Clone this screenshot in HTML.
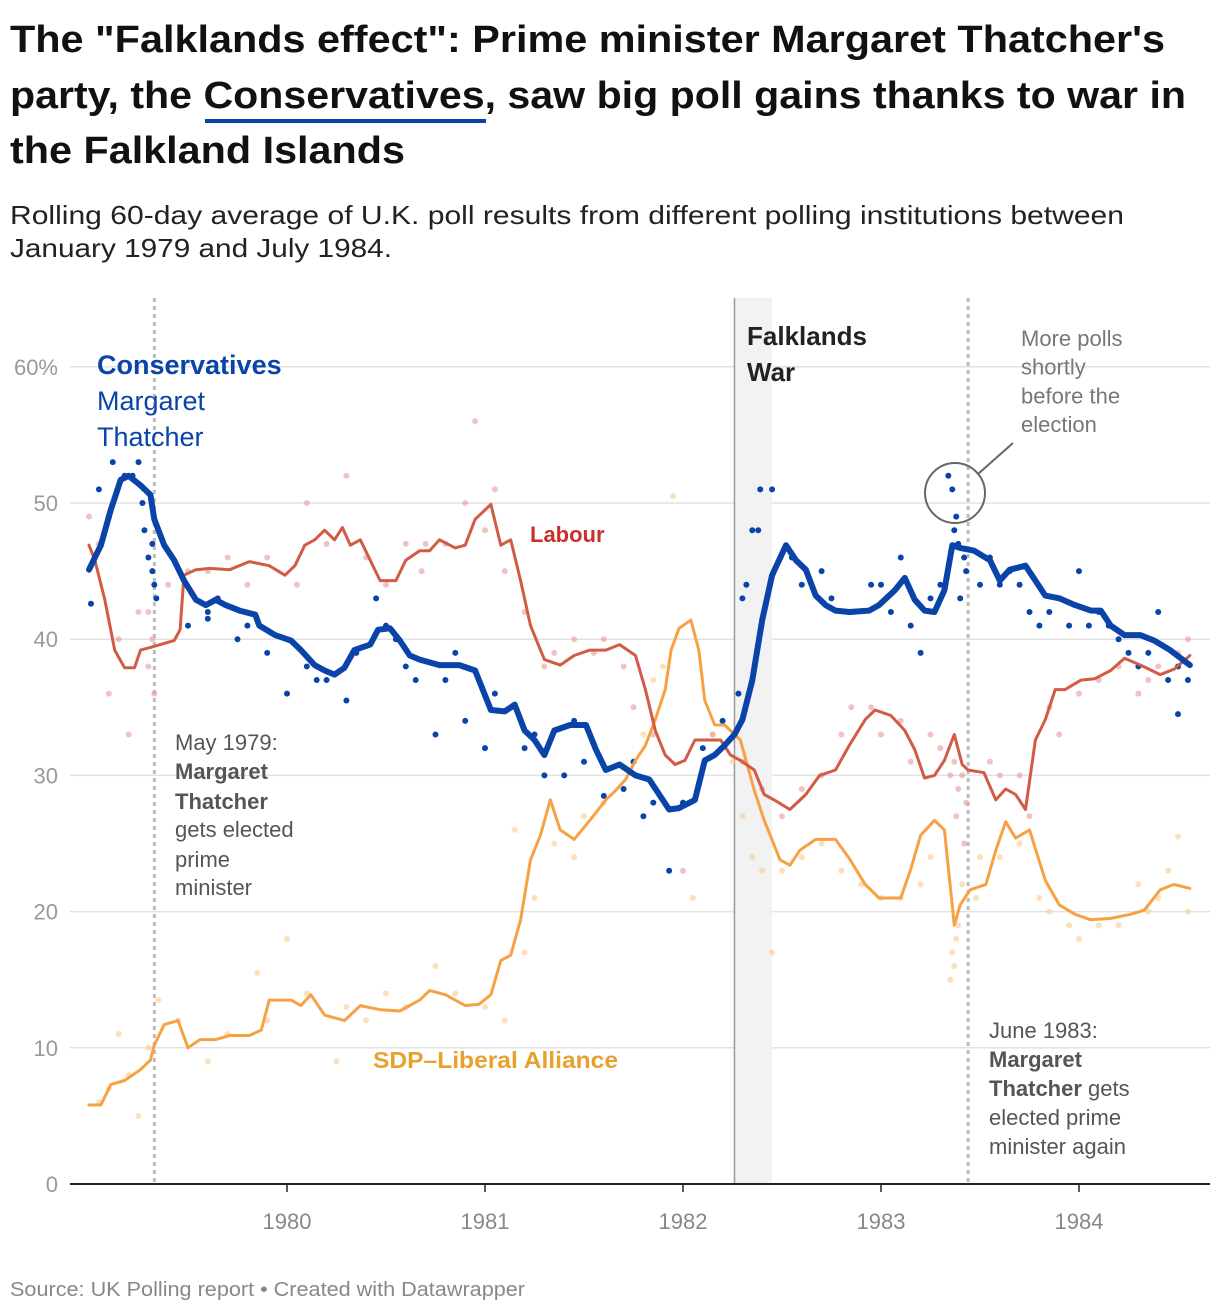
<!DOCTYPE html>
<html><head><meta charset="utf-8">
<style>
html,body{margin:0;padding:0;background:#fff;}
svg{display:block;font-family:"Liberation Sans",sans-serif;}
</style></head>
<body>
<svg id="chart" width="1220" height="1312" viewBox="0 0 1220 1312">
<g font-weight="bold" font-size="38" fill="#111">
<text x="10" y="52" textLength="1155" lengthAdjust="spacingAndGlyphs">The "Falklands effect": Prime minister Margaret Thatcher's</text>
<text x="10" y="108" textLength="1176" lengthAdjust="spacingAndGlyphs">party, the Conservatives, saw big poll gains thanks to war in</text>
<text x="10" y="163" textLength="395" lengthAdjust="spacingAndGlyphs">the Falkland Islands</text>
</g>
<rect x="205" y="119" width="281" height="4" fill="#0a44a8"/>
<g font-size="26" fill="#222">
<text x="10" y="224" textLength="1114" lengthAdjust="spacingAndGlyphs">Rolling 60-day average of U.K. poll results from different polling institutions between</text>
<text x="10" y="257" textLength="382" lengthAdjust="spacingAndGlyphs">January 1979 and July 1984.</text>
</g>
<g id="plot"></g>
<text x="10" y="1296" font-size="20" fill="#888" textLength="515" lengthAdjust="spacingAndGlyphs">Source: UK Polling report • Created with Datawrapper</text>
</svg>
<script>
const yTicks=[0,10,20,30,40,50,60];
const yTickLabels=["0","10","20","30","40","50","60%"];
const xTicks=[1980,1981,1982,1983,1984];
const consYears=[1979.00,1979.06,1979.11,1979.16,1979.20,1979.26,1979.31,1979.33,1979.38,1979.43,1979.48,1979.54,1979.59,1979.64,1979.69,1979.76,1979.84,1979.86,1979.94,1980.02,1980.07,1980.14,1980.19,1980.24,1980.29,1980.34,1980.42,1980.46,1980.52,1980.57,1980.62,1980.67,1980.77,1980.82,1980.87,1980.95,1981.03,1981.10,1981.15,1981.20,1981.25,1981.30,1981.35,1981.43,1981.51,1981.56,1981.61,1981.68,1981.76,1981.83,1981.88,1981.93,1981.98,1982.06,1982.11,1982.16,1982.21,1982.26,1982.30,1982.35,1982.40,1982.45,1982.52,1982.57,1982.62,1982.67,1982.72,1982.77,1982.84,1982.94,1982.99,1983.07,1983.12,1983.17,1983.22,1983.27,1983.32,1983.36,1983.40,1983.47,1983.55,1983.60,1983.65,1983.73,1983.78,1983.83,1983.90,1983.98,1984.06,1984.11,1984.16,1984.23,1984.31,1984.38,1984.46,1984.56];
const consVals=[45.1,46.9,49.5,51.7,52.0,51.3,50.6,48.8,46.9,45.8,44.3,42.9,42.5,42.9,42.5,42.1,41.8,41.0,40.3,39.9,39.2,38.1,37.7,37.4,37.9,39.2,39.6,40.7,40.8,39.9,38.8,38.5,38.1,38.1,38.1,37.7,34.8,34.7,35.2,33.3,32.6,31.5,33.3,33.7,33.7,31.9,30.4,30.8,30.0,29.7,28.6,27.5,27.6,28.2,31.1,31.5,32.2,33.0,34.1,37.0,41.4,44.7,46.9,45.8,45.1,43.2,42.5,42.1,42.0,42.1,42.5,43.6,44.5,42.9,42.1,42.0,43.6,46.9,46.7,46.5,45.8,44.3,45.1,45.4,44.3,43.2,43.0,42.5,42.1,42.1,41.0,40.3,40.3,39.9,39.2,38.1];
const labYears=[1979.00,1979.03,1979.08,1979.13,1979.18,1979.23,1979.26,1979.31,1979.36,1979.43,1979.46,1979.48,1979.54,1979.61,1979.71,1979.81,1979.91,1979.99,1980.04,1980.09,1980.14,1980.19,1980.24,1980.28,1980.32,1980.37,1980.42,1980.47,1980.55,1980.60,1980.67,1980.72,1980.77,1980.85,1980.90,1980.95,1981.03,1981.08,1981.13,1981.18,1981.23,1981.30,1981.38,1981.45,1981.53,1981.61,1981.68,1981.76,1981.81,1981.86,1981.91,1981.96,1982.01,1982.06,1982.11,1982.19,1982.24,1982.29,1982.36,1982.41,1982.46,1982.54,1982.62,1982.69,1982.77,1982.84,1982.92,1982.97,1983.05,1983.12,1983.17,1983.22,1983.27,1983.32,1983.37,1983.41,1983.44,1983.52,1983.58,1983.63,1983.68,1983.73,1983.78,1983.83,1983.88,1983.93,1984.01,1984.08,1984.16,1984.23,1984.31,1984.41,1984.48,1984.56];
const labVals=[46.9,45.8,42.9,39.2,37.9,37.9,39.2,39.4,39.6,39.9,40.7,44.7,45.1,45.2,45.1,45.7,45.4,44.7,45.4,46.9,47.3,48.0,47.3,48.2,46.9,47.3,45.8,44.3,44.3,45.8,46.5,46.5,47.3,46.7,46.9,48.8,49.9,46.9,47.3,44.3,41.0,38.5,38.1,38.8,39.2,39.2,39.6,38.8,36.3,33.3,31.5,30.8,31.1,32.6,32.6,32.6,31.5,31.1,30.4,28.6,28.2,27.5,28.6,30.0,30.4,32.2,34.1,34.8,34.4,33.3,31.9,29.8,30.0,31.1,33.0,30.8,30.4,30.2,28.2,29.0,28.6,27.5,32.6,34.1,36.3,36.3,37.0,37.1,37.7,38.6,38.1,37.4,37.8,38.8];
const allYears=[1979.00,1979.06,1979.11,1979.18,1979.26,1979.31,1979.33,1979.38,1979.45,1979.50,1979.56,1979.64,1979.71,1979.81,1979.87,1979.91,1980.02,1980.07,1980.12,1980.19,1980.29,1980.37,1980.47,1980.57,1980.67,1980.72,1980.80,1980.90,1980.97,1981.03,1981.08,1981.13,1981.18,1981.23,1981.28,1981.33,1981.38,1981.45,1981.53,1981.61,1981.66,1981.71,1981.76,1981.81,1981.86,1981.91,1981.94,1981.98,1982.04,1982.08,1982.11,1982.16,1982.21,1982.29,1982.36,1982.41,1982.49,1982.54,1982.59,1982.67,1982.77,1982.84,1982.92,1982.99,1983.10,1983.15,1983.20,1983.27,1983.32,1983.37,1983.40,1983.45,1983.53,1983.58,1983.63,1983.68,1983.75,1983.83,1983.90,1983.98,1984.06,1984.16,1984.26,1984.33,1984.41,1984.48,1984.56];
const allVals=[5.8,5.8,7.3,7.6,8.4,9.1,10.2,11.7,12.0,10.0,10.6,10.6,10.9,10.9,11.3,13.5,13.5,13.1,13.9,12.4,12.0,13.1,12.8,12.7,13.5,14.2,13.9,13.1,13.2,13.9,16.4,16.8,19.4,23.8,25.6,28.2,26.0,25.3,26.7,28.2,28.9,29.7,31.1,32.2,34.1,36.3,39.2,40.8,41.4,39.2,35.5,33.7,33.7,32.6,28.9,26.7,23.8,23.4,24.5,25.3,25.3,23.9,22.0,21.0,21.0,23.1,25.6,26.7,26.0,19.0,20.5,21.6,22.0,24.5,26.6,25.4,26.0,22.3,20.5,19.8,19.4,19.5,19.8,20.1,21.6,22.0,21.7];
const consDotYears=[1979.01,1979.05,1979.12,1979.18,1979.25,1979.28,1979.32,1979.33,1979.34,1979.5,1979.6,1979.75,1979.9,1980.0,1980.2,1980.3,1980.45,1980.6,1980.75,1980.9,1981.0,1981.2,1981.3,1981.4,1981.6,1981.8,1981.93,1982.0,1982.3,1982.35,1982.39,1982.45,1982.7,1983.0,1983.2,1983.34,1983.36,1983.38,1983.4,1983.6,1983.8,1984.0,1984.2,1984.4,1984.5,1984.55,
1979.1,1979.22,1979.27,1979.3,1979.32,1979.6,1979.65,1979.8,1980.1,1980.15,1980.35,1980.5,1980.55,1980.65,1980.8,1980.85,1981.05,1981.15,1981.25,1981.45,1981.5,1981.7,1981.75,1981.85,1982.1,1982.2,1982.28,1982.32,1982.38,1982.55,1982.6,1982.75,1982.85,1982.95,1983.05,1983.1,1983.15,1983.25,1983.3,1983.37,1983.39,1983.42,1983.43,1983.5,1983.55,1983.65,1983.7,1983.75,1983.85,1983.95,1984.05,1984.1,1984.15,1984.25,1984.3,1984.35,1984.45,1984.5];
const consDotVals=[42.6,51,53,52,53,48,47,44,43,41,41.5,40,39,36,37,35.5,43,38,33,34,32,32,30,30,28.5,27,23,28,43,48,51,51,45,44,39,52,51,49,43,44,41,45,40,42,34.5,37,
49,52,50,46,45,42,43,41,38,37,39,41,40,37,37,39,36,35,33,34,31,29,31,28,32,34,36,44,48,46,44,43,42,44,42,46,41,43,44,48,47,46,45,44,46,45,44,42,42,41,41,42,41,39,38,39,37,38];
const labDotYears=[1979.0,1979.1,1979.2,1979.3,1979.33,1979.5,1979.7,1980.1,1980.3,1980.6,1980.9,1980.68,1980.95,1981.05,1981.3,1981.6,1981.75,1982.0,1982.3,1982.6,1982.85,1983.1,1983.3,1983.38,1983.42,1983.6,1983.9,1984.1,1984.3,1984.5,
1979.05,1979.15,1979.25,1979.3,1979.32,1979.4,1979.6,1979.8,1979.9,1980.05,1980.2,1980.4,1980.5,1980.7,1980.8,1981.0,1981.1,1981.2,1981.35,1981.45,1981.55,1981.7,1981.85,1982.15,1982.2,1982.4,1982.5,1982.7,1982.8,1982.95,1983.0,1983.15,1983.25,1983.35,1983.37,1983.39,1983.41,1983.43,1983.55,1983.7,1983.75,1983.85,1984.0,1984.2,1984.35,1984.4,1984.55];
const labDotVals=[49,36,33,42,36,45,46,50,52,47,50,45,56,51,38,40,35,23,31,29,35,34,32,27,25,30,33,37,36,39,
47,40,42,38,40,44,45,44,46,44,47,46,44,47,47,48,45,42,39,40,39,38,33,33,34,29,27,30,33,35,33,31,33,30,31,29,30,28,31,30,27,35,36,38,37,38,40];
const allDotYears=[1979.05,1979.15,1979.25,1979.35,1979.6,1979.85,1980.0,1980.25,1980.5,1980.75,1981.1,1981.15,1981.25,1981.5,1981.8,1981.95,1982.05,1982.3,1982.45,1982.6,1982.9,1983.2,1983.35,1983.38,1983.5,1983.8,1984.0,1984.3,1984.5,1984.55,
1979.1,1979.2,1979.3,1979.45,1979.7,1979.9,1980.1,1980.3,1980.4,1980.6,1980.85,1981.0,1981.2,1981.35,1981.45,1981.6,1981.7,1981.85,1981.9,1982.15,1982.25,1982.35,1982.4,1982.5,1982.7,1982.8,1983.0,1983.1,1983.25,1983.36,1983.37,1983.39,1983.41,1983.48,1983.6,1983.7,1983.85,1983.95,1984.1,1984.2,1984.35,1984.4,1984.45];
const allDotVals=[6,11,5,13.5,9,15.5,18,9,14,16,12,26,21,27,33,50.5,21,27,17,24,22,22,15,18,24,21,18,22,25.5,20,
7,8,10,12,11,12,14,13,12,13,14,13,17,25,24,28,29,37,38,33,31,24,23,23,25,23,21,21,24,17,16,19,22,21,24,25,20,19,19,19,20,21,23];

const NS="http://www.w3.org/2000/svg";
const plot=document.getElementById('plot');
const X=y=>287+(y-1980)*198;
const Y=v=>1184-v*13.62;
function mk(tag,attrs,parent){const e=document.createElementNS(NS,tag);for(const k in attrs)e.setAttribute(k,attrs[k]);(parent||plot).appendChild(e);return e;}

yTicks.forEach((t,i)=>{
  if(t>0){const g=mk('line',{x1:70,x2:1210,y1:Y(t),y2:Y(t),stroke:'#e2e2e2','stroke-width':1.5});
  
  }
  const l=mk('text',{x:58,y:Y(t)+8,'text-anchor':'end','font-size':22,fill:'#999'});
  l.textContent=yTickLabels[i];
  
  
});
const band=mk('rect',{x:X(1982.26),y:298,width:X(1982.45)-X(1982.26),height:886,fill:'#f2f2f2'});


const bl=mk('line',{x1:X(1982.26),x2:X(1982.26),y1:298,y2:1184,stroke:'#999','stroke-width':1.5});


[1979.33,1983.44].forEach(d=>{
  const v=mk('line',{x1:X(d),x2:X(d),y1:298,y2:1184,stroke:'#bbb','stroke-width':3,'stroke-dasharray':'4 4'});
  
  
});
function dots(ys,vs,fill,r,op,name){const n=Math.min(ys.length,vs.length);for(let i=0;i<n;i++){const c=mk('circle',{cx:X(ys[i]),cy:Y(vs[i]),r:r,fill:fill,'fill-opacity':op});
  
  }}
dots(allDotYears,allDotVals,'#fbc98a',3,0.6,'alliance-poll-dot');
dots(labDotYears,labDotVals,'#e79a92',3,0.6,'labour-poll-dot');
dots(consDotYears,consDotVals,'#0a44a8',3,1,'conservatives-poll-dot');
function line(ys,vs,color,w,name){const n=Math.min(ys.length,vs.length);let d='';for(let i=0;i<n;i++)d+=(i?'L':'M')+X(ys[i]).toFixed(1)+','+Y(vs[i]).toFixed(1);
  const p=mk('path',{d:d,fill:'none',stroke:color,'stroke-width':w,'stroke-linejoin':'round','stroke-linecap':'round'});
  
  }
line(allYears,allVals,'#f7a145',3,'alliance-line');
line(labYears,labVals,'#d25b45',3,'labour-line');
line(consYears,consVals,'#0a44a8',6,'conservatives-line');
const ax=mk('line',{x1:70,x2:1210,y1:1184,y2:1184,stroke:'#222','stroke-width':2});


xTicks.forEach(t=>{
  const tk=mk('line',{x1:X(t),x2:X(t),y1:1184,y2:1192,stroke:'#222','stroke-width':1.5});
  
  
  const l=mk('text',{x:X(t),y:1229,'text-anchor':'middle','font-size':22,fill:'#888'});
  l.textContent=t;
  
  
});
function txt(x,y,s,opts,name){const t=mk('text',Object.assign({x:x,y:y},opts));t.innerHTML=s;
  
  return t;}
txt(97,374,'Conservatives',{'font-size':27,'font-weight':'bold',fill:'#0a44a8'},'conservatives-label');
txt(97,410,'Margaret',{'font-size':27,fill:'#0a44a8'},'conservatives-leader-label');
txt(97,446,'Thatcher',{'font-size':27,fill:'#0a44a8'},'conservatives-leader-label');
txt(530,542,'Labour',{'font-size':22,'font-weight':'bold',fill:'#c9302c'},'labour-label');
txt(373,1068,'SDP–Liberal Alliance',{'font-size':23,'font-weight':'bold',fill:'#e8a02e',textLength:245,lengthAdjust:'spacingAndGlyphs'},'alliance-label');
txt(747,345,'Falklands',{'font-size':26,'font-weight':'bold',fill:'#222'},'falklands-war-label');
txt(747,381,'War',{'font-size':26,'font-weight':'bold',fill:'#222'},'falklands-war-label');
['More polls','shortly','before the','election'].forEach((s,i)=>txt(1021,346+i*28.7,s,{'font-size':22,fill:'#777'},'polls-annotation'));
const circ=mk('circle',{cx:955,cy:493,r:30,fill:'none',stroke:'#666','stroke-width':2});


const cl=mk('line',{x1:978,y1:474,x2:1013,y2:443,stroke:'#666','stroke-width':2});


const a1=['May 1979:','<tspan font-weight="bold">Margaret</tspan>','<tspan font-weight="bold">Thatcher</tspan>','gets elected','prime','minister'];
const a1y=[750,779,809,837,867,895];
a1.forEach((s,i)=>txt(175,a1y[i],s,{'font-size':22,fill:'#555'},'may-1979-annotation'));
const a2=['June 1983:','<tspan font-weight="bold">Margaret</tspan>','<tspan font-weight="bold">Thatcher</tspan> gets','elected prime','minister again'];
a2.forEach((s,i)=>txt(989,1038+i*29,s,{'font-size':22,fill:'#555'},'june-1983-annotation'));
</script>
</body></html>
